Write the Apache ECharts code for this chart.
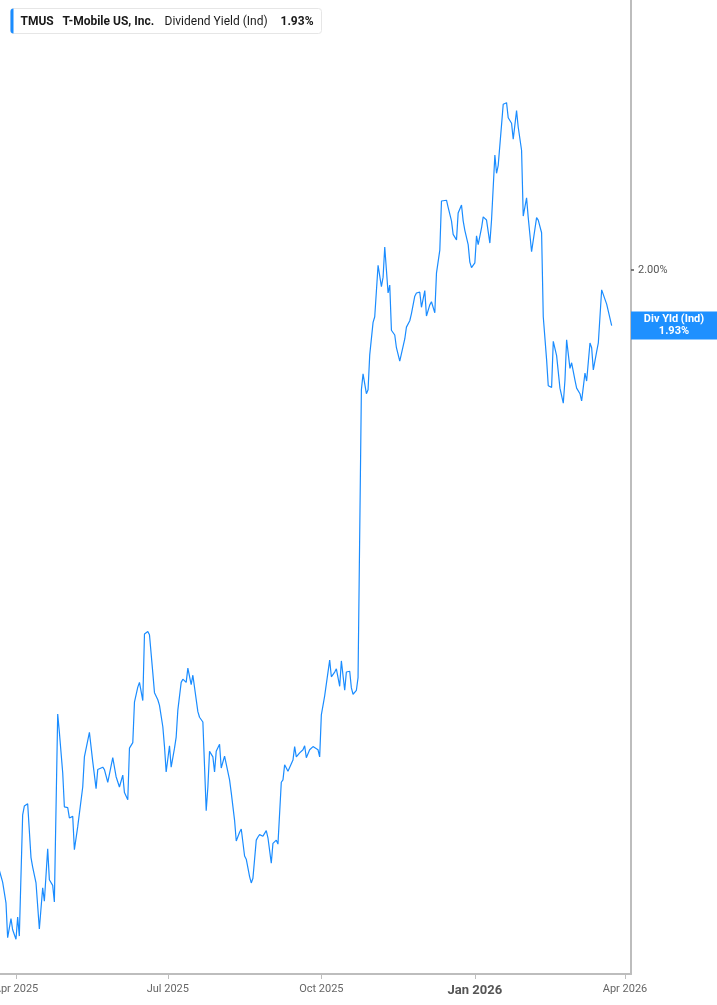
<!DOCTYPE html>
<html>
<head>
<meta charset="utf-8">
<script src="https://cdn.jsdelivr.net/npm/echarts@6/dist/echarts.min.js"></script>
<style>
  html, body { margin: 0; padding: 0; background: #fff; }
  #chart { width: 717px; height: 1005px; }
</style>
</head>
<body>
<div id="chart"></div>
<script>
// ---- data ----
const dates = [
 '2025-03-22','2025-03-24','2025-03-25','2025-03-26','2025-03-27','2025-03-29','2025-03-30','2025-04-01','2025-04-02','2025-04-03',
 '2025-04-05','2025-04-06','2025-04-08','2025-04-10','2025-04-11','2025-04-13','2025-04-15','2025-04-17','2025-04-18','2025-04-20',
 '2025-04-21','2025-04-23','2025-04-24','2025-04-26','2025-04-27','2025-04-29','2025-04-30','2025-05-02','2025-05-03','2025-05-05',
 '2025-05-06','2025-05-08','2025-05-11','2025-05-12','2025-05-15','2025-05-17','2025-05-19','2025-05-20','2025-05-23','2025-05-24',
 '2025-05-26','2025-05-27','2025-05-29','2025-05-31','2025-06-02','2025-06-04','2025-06-05','2025-06-07','2025-06-08','2025-06-10',
 '2025-06-11','2025-06-13','2025-06-14','2025-06-16','2025-06-17','2025-06-19','2025-06-20','2025-06-22','2025-06-23','2025-06-25',
 '2025-06-26','2025-06-28','2025-06-29','2025-06-30','2025-07-02','2025-07-03','2025-07-05','2025-07-06','2025-07-07','2025-07-09',
 '2025-07-10','2025-07-12','2025-07-13','2025-07-15','2025-07-16','2025-07-17','2025-07-19','2025-07-20','2025-07-22','2025-07-24',
 '2025-07-25','2025-07-26','2025-07-28','2025-07-29','2025-07-30','2025-08-01','2025-08-02','2025-08-04','2025-08-05','2025-08-07',
 '2025-08-08','2025-08-10','2025-08-11','2025-08-13','2025-08-14','2025-08-16','2025-08-17','2025-08-19','2025-08-20','2025-08-21',
 '2025-08-23','2025-08-24','2025-08-25','2025-08-27','2025-08-29','2025-08-30','2025-09-01','2025-09-02','2025-09-04','2025-09-05',
 '2025-09-07','2025-09-08','2025-09-09','2025-09-11','2025-09-12','2025-09-14','2025-09-15','2025-09-16','2025-09-18','2025-09-20',
 '2025-09-21','2025-09-22','2025-09-24','2025-09-26','2025-09-27','2025-09-29','2025-09-30','2025-10-01','2025-10-03','2025-10-04',
 '2025-10-06','2025-10-07','2025-10-09','2025-10-10','2025-10-12','2025-10-13','2025-10-15','2025-10-16','2025-10-18','2025-10-19',
 '2025-10-20','2025-10-22','2025-10-23','2025-10-25','2025-10-26','2025-10-28','2025-10-29','2025-10-30','2025-11-01','2025-11-02',
 '2025-11-04','2025-11-06','2025-11-07','2025-11-08','2025-11-10','2025-11-11','2025-11-12','2025-11-14','2025-11-15','2025-11-17',
 '2025-11-18','2025-11-20','2025-11-21','2025-11-23','2025-11-24','2025-11-26','2025-11-27','2025-11-29','2025-11-30','2025-12-02',
 '2025-12-03','2025-12-05','2025-12-06','2025-12-08','2025-12-09','2025-12-11','2025-12-12','2025-12-13','2025-12-15','2025-12-16',
 '2025-12-18','2025-12-19','2025-12-21','2025-12-22','2025-12-24','2025-12-25','2025-12-26','2025-12-28','2025-12-29','2025-12-30',
 '2026-01-01','2026-01-02','2026-01-03','2026-01-05','2026-01-06','2026-01-08','2026-01-10','2026-01-11','2026-01-13','2026-01-14',
 '2026-01-15','2026-01-17','2026-01-18','2026-01-20','2026-01-21','2026-01-23','2026-01-24','2026-01-26','2026-01-27','2026-01-29',
 '2026-01-30','2026-02-01','2026-02-02','2026-02-04','2026-02-05','2026-02-07','2026-02-08','2026-02-10','2026-02-11','2026-02-13',
 '2026-02-14','2026-02-16','2026-02-17','2026-02-19','2026-02-20','2026-02-21','2026-02-23','2026-02-24','2026-02-25','2026-02-27',
 '2026-02-28','2026-03-02','2026-03-03','2026-03-05','2026-03-06','2026-03-08','2026-03-09','2026-03-11','2026-03-12','2026-03-13',
 '2026-03-15','2026-03-16','2026-03-18','2026-03-19','2026-03-21','2026-03-22','2026-03-24'
];
const divYield = [
 1.243,1.228,1.227,1.202,1.158,1.182,1.168,1.156,1.184,1.160,
 1.313,1.324,1.327,1.259,1.247,1.227,1.169,1.221,1.204,1.270,
 1.231,1.224,1.203,1.440,1.417,1.366,1.323,1.322,1.309,1.311,
 1.269,1.298,1.348,1.386,1.417,1.380,1.346,1.370,1.373,1.370,
 1.354,1.353,1.385,1.361,1.348,1.363,1.341,1.332,1.397,1.404,
 1.455,1.474,1.480,1.457,1.541,1.544,1.540,1.492,1.467,1.458,
 1.451,1.424,1.399,1.367,1.400,1.373,1.397,1.411,1.445,1.480,
 1.484,1.480,1.498,1.477,1.489,1.489,1.443,1.436,1.430,1.318,
 1.348,1.393,1.386,1.367,1.393,1.402,1.372,1.387,1.386,1.357,
 1.341,1.306,1.280,1.291,1.295,1.261,1.257,1.235,1.227,1.233,
 1.281,1.285,1.288,1.286,1.293,1.284,1.252,1.277,1.281,1.276,
 1.354,1.357,1.376,1.368,1.366,1.382,1.399,1.386,1.391,1.395,
 1.400,1.385,1.395,1.399,1.400,1.395,1.386,1.439,1.463,1.463,
 1.508,1.487,1.493,1.497,1.475,1.507,1.470,1.493,1.494,1.473,
 1.465,1.470,1.486,1.849,1.869,1.844,1.849,1.893,1.934,1.941,
 2.006,1.979,1.991,2.029,1.971,1.981,1.924,1.918,1.902,1.885,
 1.887,1.913,1.928,1.936,1.945,1.967,1.971,1.972,1.953,1.974,
 1.942,1.956,1.960,1.946,1.996,2.025,2.087,2.087,2.088,2.079,
 2.062,2.045,2.038,2.072,2.082,2.062,2.050,2.032,2.010,2.003,
 2.009,2.043,2.032,2.053,2.067,2.063,2.034,2.063,2.145,2.122,
 2.132,2.183,2.209,2.211,2.192,2.185,2.165,2.201,2.180,2.151,
 2.068,2.091,2.066,2.023,2.021,2.066,2.063,2.047,1.941,1.887,
 1.854,1.852,1.910,1.892,1.890,1.851,1.832,1.861,1.912,1.876,
 1.883,1.861,1.851,1.844,1.835,1.870,1.860,1.908,1.902,1.874,
 1.897,1.908,1.975,1.974,1.957,1.955,1.930
];
const xTickDates = ['2025-04-01', '2025-07-01', '2025-10-01', '2026-01-01', '2026-04-01'];
const xTickLabels = ['Apr 2025', 'Jul 2025', 'Oct 2025', 'Jan 2026', 'Apr 2026'];
const yTickValues = [2.00];
const ticker = 'TMUS';
const company = 'T-Mobile US, Inc.';
const metric = 'Dividend Yield (Ind)';
const endTag = 'Div Yld (Ind)';

// ---- chart ----
const toTs = s => new Date(s + 'T00:00:00Z').getTime();
const lastVal = divYield[divYield.length - 1];
const fmtPct = v => v.toFixed(2) + '%';
const seriesData = dates.map((d, i) => [toTs(d), divYield[i]]);
const xTickTs = xTickDates.map(toTs);

const blue = '#1a8cff';
const axisGray = '#bdbdbd';

const chart = echarts.init(document.getElementById('chart'), null, { renderer: 'canvas' });
chart.setOption({
  animation: false,
  backgroundColor: '#ffffff',
  textStyle: { fontFamily: 'Roboto, sans-serif' },
  grid: { left: 0, right: 86, top: 0, bottom: 31, containLabel: false, outerBoundsMode: 'none' },
  xAxis: {
    type: 'value',
    min: new Date('2025-03-22T10:00:00Z').getTime(),
    max: new Date('2026-04-04T14:00:00Z').getTime(),
    splitLine: { show: false },
    axisLine: { show: true, onZero: false, lineStyle: { color: axisGray, width: 2 } },
    axisTick: { show: true, customValues: xTickTs, length: 5, lineStyle: { color: axisGray, width: 1 } },
    axisLabel: {
      customValues: xTickTs,
      margin: 10,
      fontSize: 11,
      color: '#666',
      fontFamily: 'Roboto, sans-serif',
      formatter: function (val) {
        const i = xTickTs.indexOf(val);
        const t = i >= 0 ? xTickLabels[i] : '';
        return t.indexOf('Jan') === 0 ? '{b|' + t + '}' : t;
      },
      rich: { b: { fontWeight: 'bold', fontSize: 13, color: '#555', fontFamily: 'Roboto, sans-serif' } }
    }
  },
  yAxis: [{
    type: 'value',
    position: 'right',
    min: 1.1122,
    max: 2.3405,
    splitLine: { show: false },
    axisLine: { show: true, onZero: false, lineStyle: { color: axisGray, width: 2 } },
    axisTick: { show: true, customValues: yTickValues, length: 3, lineStyle: { color: '#555', width: 1.5 } },
    axisLabel: {
      customValues: yTickValues,
      formatter: v => fmtPct(v),
      margin: 7,
      fontSize: 11,
      color: '#555',
      fontFamily: 'Roboto, sans-serif'
    }
  }, {
    type: 'value',
    position: 'right',
    min: 1.1122,
    max: 2.3405,
    splitLine: { show: false },
    axisLine: { show: false },
    axisTick: { show: false },
    axisLabel: {
      customValues: [lastVal],
      formatter: v => '{t|' + endTag + '}\n{t|' + fmtPct(v) + '}',
      margin: 43,
      align: 'center',
      backgroundColor: '#1e90ff',
      width: 86,
      padding: [2, 0, 2, 0],
      rich: {
        t: { color: '#fff', fontWeight: 'bold', fontSize: 11, lineHeight: 12, align: 'center', width: 86, fontFamily: 'Roboto, sans-serif' }
      }
    }
  }],
  series: [{
    type: 'line',
    data: seriesData,
    showSymbol: false,
    symbol: 'none',
    lineStyle: { color: blue, width: 1.2 },
    itemStyle: { color: blue },
    z: 3
  }],
  graphic: [{
    type: 'group',
    left: 10,
    top: 8,
    children: [
      { type: 'rect', shape: { x: 0, y: 0, width: 311, height: 25, r: 3 },
        style: { fill: '#fff', stroke: '#e6e6e6', lineWidth: 1 } },
      { type: 'rect', shape: { x: 0, y: 0, width: 3, height: 25, r: [3, 0, 0, 3] },
        style: { fill: blue } },
      { type: 'text', x: 10, y: 13,
        style: { text: ticker, fill: '#1a1a1a', font: 'bold 12px Roboto, sans-serif', verticalAlign: 'middle' } },
      { type: 'text', x: 52, y: 13,
        style: { text: company, fill: '#1a1a1a', font: 'bold 12px Roboto, sans-serif', verticalAlign: 'middle' } },
      { type: 'text', x: 154, y: 13,
        style: { text: metric, fill: '#1a1a1a', font: '12px Roboto, sans-serif', verticalAlign: 'middle' } },
      { type: 'text', x: 270, y: 13,
        style: { text: fmtPct(lastVal), fill: '#1a1a1a', font: 'bold 12px Roboto, sans-serif', verticalAlign: 'middle' } }
    ]
  }]
});
</script>
</body>
</html>
